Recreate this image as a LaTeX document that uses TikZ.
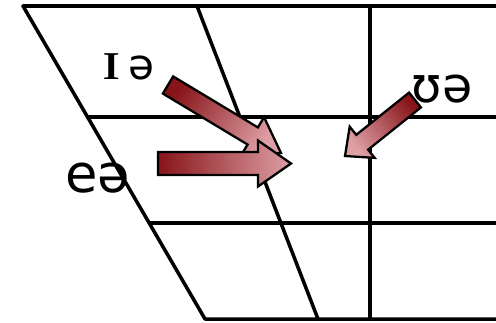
\documentclass[tikz,border=0pt]{standalone}
\usepackage{fontspec}
\setmainfont{DejaVu Sans}
\newfontfamily\ipaserif{Liberation Serif}
\usetikzlibrary{calc}
\definecolor{tailred}{RGB}{135,20,25}
\definecolor{headpink}{RGB}{222,160,165}
\begin{document}
\begin{tikzpicture}[x=0.02cm, y=-0.02cm, line join=round, line cap=round,
    gridline/.style={line width=2pt},
    glide/.style={draw=black, line width=1.3pt, line join=miter, left color=tailred, right color=headpink},
    vowel/.style={inner sep=0pt}]
    \useasboundingbox (0,0) rectangle (496,322);
    % vowel chart
    \coordinate (TL) at (23,6);
    \coordinate (TR) at (496,6);
    \coordinate (BL) at (205,319);
    \coordinate (BR) at (496,319);
    \path (TL)--(BL) coordinate[pos=111/313](L1) coordinate[pos=217/313](L2);
    \draw[gridline] (TR)--(TL)--(BL)--(BR);
    \draw[gridline] (197,6)--(318,319);
    \draw[gridline] (370,6)--(370,319);
    \draw[gridline] (L1)--(L1-|TR);
    \draw[gridline] (L2)--(L2-|TR);
    % labels
    \node[vowel, font=\fontsize{24}{28}\selectfont] (lI) at (128,67) {{\ipaserif\fontsize{32}{36}\selectfont\scalebox{1.3}[1]{ɪ}}\,ə};
    \node[vowel, font=\fontsize{30}{34}\selectfont] (lE) at (98,178) {eə};
    \node[vowel, font=\fontsize{28}{32}\selectfont] (lU) at (442,89) {ʊə};
    % glides
    \coordinate (tI) at (168,85);    \coordinate (hI) at (281,153);
    \coordinate (tE) at (158,163.5); \coordinate (hE) at (291,163.5);
    \coordinate (tU) at (415,100);   \coordinate (hU) at (345,156);
    \foreach \t/\h/\w/\hw/\hl/\a in {tI/hI/.2cm/.44cm/.66cm/59, tE/hE/.23cm/.46cm/.66cm/90, tU/hU/.19cm/.4cm/.44cm/-51}{
        \coordinate (s) at ($(\h)!\hl!(\t)$);
        \draw[glide, shading angle=\a] ($(\t)!\w!90:(\h)$)--($(s)!\w!90:(\h)$)--($(s)!\hw!90:(\h)$)--(\h)
            --($(s)!\hw!-90:(\h)$)--($(s)!\w!-90:(\h)$)--($(\t)!\w!-90:(\h)$)--cycle;
    }
\end{tikzpicture}
\end{document}
